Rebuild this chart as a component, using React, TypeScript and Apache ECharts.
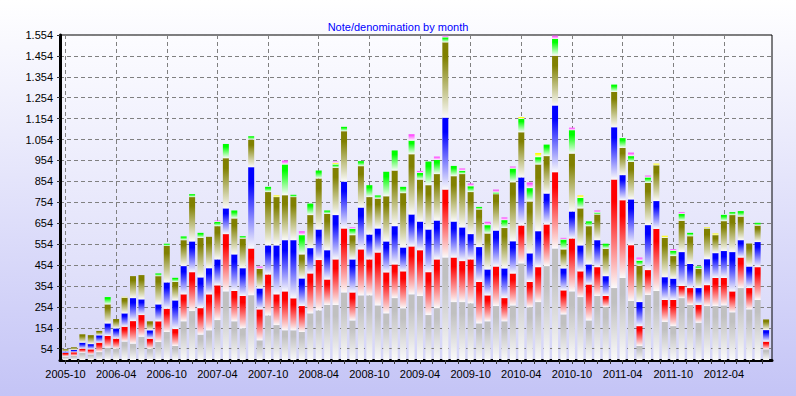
import React, { useEffect, useRef } from "react";
import * as echarts from "echarts";

// ---- categories (months 2005-10 .. 2012-09) ----
const START_YEAR = 2005;
const START_MONTH = 10;
const MONTH_COUNT = 84;
const months: string[] = [];
for (let i = 0; i < MONTH_COUNT; i++) {
  const m = START_MONTH - 1 + i;
  const y = START_YEAR + Math.floor(m / 12);
  const mm = (m % 12) + 1;
  months.push(`${y}-${String(mm).padStart(2, "0")}`);
}

// ---- tick labels ----
const yTickValues = [54, 154, 254, 354, 454, 554, 654, 754, 854, 954, 1054, 1154, 1254, 1354, 1454, 1554];
const xLabelIndex = [0, 6, 12, 18, 24, 30, 36, 42, 48, 54, 60, 66, 72, 78];

// ---- series values (stack order bottom -> top) ----
const gray = [
  17, 19, 35, 27, 38, 59, 54, 88, 78, 111,
  54, 86, 134, 67, 185, 234, 121, 142, 191, 328,
  185, 151, 310, 94, 213, 167, 142, 142, 134, 223,
  237, 263, 263, 323, 189, 309, 309, 261, 223, 296,
  247, 314, 306, 215, 248, 490, 277, 277, 271, 175,
  185, 258, 185, 261, 462, 252, 277, 449, 533, 218,
  328, 301, 189, 306, 253, 344, 392, 282, 67, 311,
  330, 182, 162, 296, 263, 178, 258, 258, 261, 228,
  344, 242, 287, 51,
];
const red = [
  16, 18, 19, 24, 45, 56, 48, 71, 108, 104,
  48, 99, 111, 81, 129, 186, 127, 172, 166, 274,
  145, 155, 223, 148, 196, 147, 186, 153, 124, 191,
  241, 122, 218, 306, 134, 220, 172, 253, 196, 161,
  177, 229, 219, 205, 233, 325, 213, 196, 210, 198,
  124, 189, 111, 153, 181, 121, 167, 199, 365, 115,
  253, 123, 172, 138, 53, 519, 372, 267, 95, 119,
  297, 105, 125, 58, 81, 86, 100, 134, 131, 100,
  146, 102, 157, 37,
];
const blue = [
  8, 11, 29, 25, 35, 60, 49, 64, 110, 75,
  40, 81, 126, 137, 135, 147, 147, 125, 124, 123,
  175, 133, 389, 100, 139, 234, 245, 278, 132, 121,
  146, 140, 212, 224, 158, 200, 119, 115, 148, 183,
  114, 153, 137, 204, 186, 344, 172, 161, 121, 167,
  124, 172, 142, 154, 230, 137, 172, 148, 319, 105,
  129, 124, 96, 129, 95, 250, 120, 219, 115, 215,
  133, 109, 102, 162, 115, 80, 124, 119, 129, 188,
  83, 103, 120, 55,
];
const olive = [
  10, 13, 40, 43, 21, 91, 45, 75, 105, 116,
  43, 135, 174, 88, 124, 212, 189, 150, 159, 240,
  172, 142, 132, 94, 255, 231, 215, 206, 115, 158,
  244, 174, 226, 241, 116, 198, 179, 143, 216, 266,
  260, 288, 201, 212, 222, 360, 217, 255, 201, 180,
  172, 174, 193, 282, 216, 248, 319, 179, 238, 91,
  277, 177, 183, 123, 131, 169, 130, 179, 174, 202,
  171, 188, 108, 150, 133, 92, 147, 86, 143, 177,
  113, 110, 79, 51,
];
const green = [
  0, 0, 0, 0, 0, 35, 0, 0, 0, 0,
  0, 13, 11, 20, 18, 14, 24, 0, 21, 68,
  38, 11, 16, 0, 25, 0, 147, 11, 92, 55,
  38, 16, 16, 21, 30, 24, 57, 15, 117, 96,
  30, 65, 32, 113, 68, 24, 49, 16, 28, 12,
  40, 8, 38, 66, 64, 64, 35, 55, 80, 47,
  112, 50, 23, 9, 24, 35, 47, 28, 24, 26,
  0, 0, 25, 33, 16, 11, 0, 0, 30, 14,
  26, 0, 13, 0,
];
const yellow = [
  0, 0, 0, 0, 0, 0, 0, 4, 0, 0,
  0, 0, 0, 0, 0, 0, 0, 0, 0, 0,
  0, 0, 0, 0, 0, 8, 0, 0, 0, 0,
  0, 0, 8, 0, 0, 0, 0, 0, 0, 0,
  0, 0, 0, 0, 0, 0, 0, 0, 0, 0,
  0, 0, 0, 0, 9, 0, 20, 0, 0, 0,
  0, 12, 0, 0, 0, 0, 0, 0, 0, 0,
  8, 10, 0, 0, 0, 0, 5, 8, 0, 0,
  0, 0, 0, 0,
];
const pink = [
  0, 0, 0, 0, 0, 0, 0, 0, 0, 0,
  0, 0, 0, 0, 0, 0, 0, 0, 6, 0,
  0, 0, 0, 11, 0, 0, 19, 0, 19, 0,
  0, 0, 6, 0, 7, 0, 0, 0, 0, 0,
  0, 31, 9, 0, 16, 8, 0, 11, 13, 0,
  16, 14, 13, 9, 0, 27, 0, 0, 16, 8,
  12, 0, 0, 10, 0, 0, 0, 17, 15, 9,
  0, 0, 8, 8, 0, 0, 0, 0, 0, 0,
  0, 0, 0, 0,
];

const seriesDefs = [
  { name: "5", data: gray, color: "#c0c0c0" },
  { name: "10", data: red, color: "#ff0000" },
  { name: "20", data: blue, color: "#0000ff" },
  { name: "50", data: olive, color: "#808000" },
  { name: "100", data: green, color: "#00ff00" },
  { name: "200", data: yellow, color: "#ffff00" },
  { name: "500", data: pink, color: "#ff55ff" },
];

const FONT = "'Liberation Sans', Arial, sans-serif";

function fmtY(v: number): string {
  if (v >= 1000) {
    return `${Math.floor(v / 1000)}.${String(v % 1000).padStart(3, "0")}`;
  }
  return String(v);
}

export default function App() {
  const ref = useRef<HTMLDivElement>(null);

  useEffect(() => {
    if (!ref.current) return;
    const chart = echarts.init(ref.current, undefined, { renderer: "svg" });

    const minorTicks: number[] = [];
    for (let i = 0; i <= 82.5; i += 1.5) minorTicks.push(i);

    const grad = (c: string) =>
      new echarts.graphic.LinearGradient(0, 0, 0, 1, [
        { offset: 0, color: c },
        { offset: 0.2, color: c },
        { offset: 1, color: "#fbfbfb" },
      ]);

    const X_MIN = -0.65;
    const X_MAX = 83.7;
    const FRAME_LEFT = 60;
    const FRAME_RIGHT = 24;
    const FRAME_W = 796 - FRAME_LEFT - FRAME_RIGHT;
    const unit = FRAME_W / (X_MAX - X_MIN);
    const barLeft = FRAME_LEFT + (-0.5 - X_MIN) * unit;
    const barRight = 796 - (barLeft + MONTH_COUNT * unit);

    chart.setOption({
      animation: false,
      title: {
        text: "Note/denomination by month",
        left: "center",
        top: 16,
        textStyle: { color: "#0000ff", fontSize: 11, fontWeight: "normal", fontFamily: FONT },
      },
      grid: [
        {
          left: FRAME_LEFT,
          right: FRAME_RIGHT,
          top: 35,
          bottom: 36,
          show: true,
          borderColor: "#000",
          borderWidth: 1,
          backgroundColor: new echarts.graphic.LinearGradient(0, 0, 0, 1, [
            { offset: 0, color: "#fcfcff" },
            { offset: 1, color: "#d6d6f8" },
          ]),
        },
        { left: barLeft, right: barRight, top: 35, bottom: 36 },
      ],
      xAxis: [
        {
          type: "value",
          gridIndex: 0,
          min: X_MIN,
          max: X_MAX,
          position: "bottom",
          axisLine: { show: true, onZero: false, lineStyle: { color: "#000", width: 3 } },
          axisTick: { show: true, customValues: minorTicks, length: 4, lineStyle: { color: "#333" } },
          axisLabel: {
            customValues: xLabelIndex,
            formatter: (v: number) => months[Math.round(v)] ?? "",
            color: "#000",
            fontSize: 11,
            fontFamily: FONT,
            margin: 8,
          },
          splitLine: { show: false },
        },
        {
          type: "value",
          gridIndex: 0,
          min: X_MIN,
          max: X_MAX,
          position: "top",
          axisLine: { show: false },
          axisTick: { show: false, customValues: xLabelIndex },
          axisLabel: { show: false },
          splitLine: { show: true, lineStyle: { color: "#808080", width: 1, type: [4, 3] } },
        },
        {
          type: "category",
          gridIndex: 1,
          data: months,
          show: false,
        },
      ],
      yAxis: [
        {
          type: "value",
          gridIndex: 0,
          min: 0,
          max: 1554,
          axisLine: { show: true, onZero: false, lineStyle: { color: "#000", width: 3 } },
          axisTick: { show: true, customValues: yTickValues, length: 3, lineStyle: { color: "#333" } },
          axisLabel: {
            customValues: yTickValues,
            formatter: (v: number) => fmtY(v),
            color: "#000",
            fontSize: 11,
            fontFamily: FONT,
            margin: 7,
          },
          splitLine: { show: true, lineStyle: { color: "#808080", width: 1, type: [4, 3] } },
        },
        {
          type: "value",
          gridIndex: 1,
          min: 0,
          max: 1554,
          show: false,
        },
      ],
      series: seriesDefs.map((s) => ({
        type: "bar",
        name: s.name,
        stack: "total",
        xAxisIndex: 2,
        yAxisIndex: 1,
        barWidth: 6,
        data: s.data,
        itemStyle: { color: grad(s.color) },
      })),
    });

    return () => chart.dispose();
  }, []);

  return (
    <div
      style={{
        position: "fixed",
        left: 0,
        top: 0,
        width: 796,
        height: 396,
        background: "linear-gradient(to bottom, #ffffff 0%, #c4c4f6 100%)",
      }}
    >
      <div ref={ref} style={{ width: 796, height: 396 }} />
    </div>
  );
}
